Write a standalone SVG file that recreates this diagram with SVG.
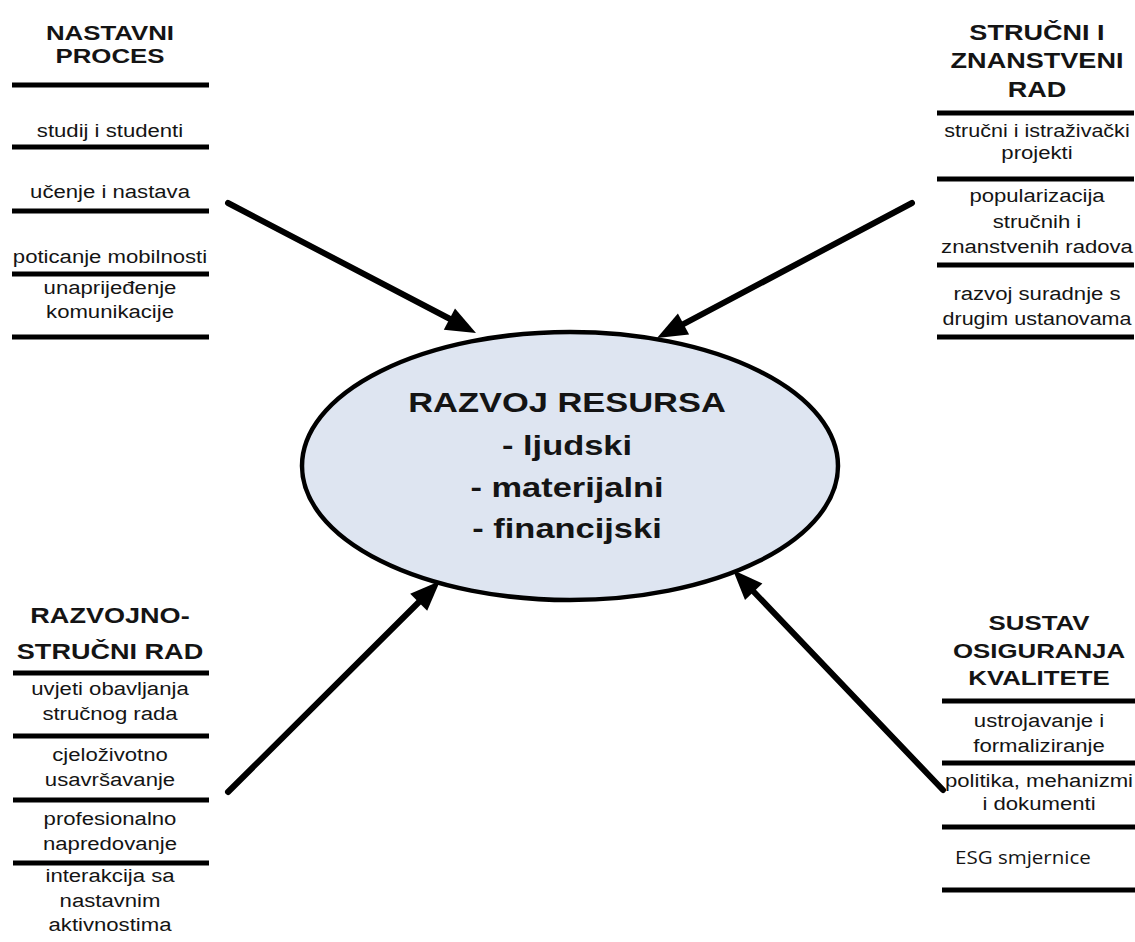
<svg xmlns="http://www.w3.org/2000/svg" width="1135" height="942" viewBox="0 0 1135 942">
<style>
text{font-family:"Liberation Sans",Arial,sans-serif;fill:#141414;text-anchor:middle}
.t{font-weight:bold;font-size:21px}
.i{font-size:18px}
.c{font-weight:bold;font-size:28px}
.esg{font-family:"Open Sans","Liberation Sans",sans-serif;font-size:19px;text-anchor:start}
.rule{stroke:#000;stroke-width:5}
.conn line{stroke:#000;stroke-width:6;stroke-linecap:round}
.conn polygon{fill:#000}
</style>
<rect width="1135" height="942" fill="#fff"/>

<g id="nastavni-proces">
<g class="rule">
<line x1="12" y1="85" x2="209" y2="85"/>
<line x1="12" y1="147" x2="209" y2="147"/>
<line x1="12" y1="211" x2="209" y2="211"/>
<line x1="12" y1="274" x2="209" y2="274"/>
<line x1="12" y1="337" x2="209" y2="337"/>
</g>
<g transform="matrix(1.23 0 0 1 110 0)">
<text class="t" y="40">NASTAVNI</text>
<text class="t" y="63">PROCES</text>
<text class="i" y="137">studij i studenti</text>
<text class="i" y="198">učenje i nastava</text>
<text class="i" y="263">poticanje mobilnosti</text>
<text class="i" y="294">unaprijeđenje</text>
<text class="i" y="318">komunikacije</text>
</g>
</g>

<g id="strucni-znanstveni-rad">
<g class="rule">
<line x1="937" y1="113" x2="1134" y2="113"/>
<line x1="937" y1="179" x2="1134" y2="179"/>
<line x1="937" y1="265" x2="1134" y2="265"/>
<line x1="937" y1="337" x2="1134" y2="337"/>
</g>
<g transform="matrix(1.23 0 0 1 1037 0)">
<text class="t" y="40" style="font-size:22px">STRUČNI I</text>
<text class="t" y="68" style="font-size:22px">ZNANSTVENI</text>
<text class="t" y="97" style="font-size:22px">RAD</text>
<text class="i" y="137" style="font-size:17.5px">stručni i istraživački</text>
<text class="i" y="159">projekti</text>
<text class="i" y="202">popularizacija</text>
<text class="i" y="228">stručnih i</text>
<text class="i" y="253">znanstvenih radova</text>
<text class="i" y="300">razvoj suradnje s</text>
<text class="i" y="325" style="font-size:17.5px">drugim ustanovama</text>
</g>
</g>

<g id="razvojno-strucni-rad">
<g class="rule">
<line x1="13" y1="673" x2="209" y2="673"/>
<line x1="13" y1="736" x2="209" y2="736"/>
<line x1="13" y1="800" x2="209" y2="800"/>
<line x1="13" y1="863" x2="209" y2="863"/>
</g>
<g transform="matrix(1.23 0 0 1 110 0)">
<text class="t" y="623" style="font-size:22px">RAZVOJNO-</text>
<text class="t" y="659" style="font-size:22px">STRUČNI RAD</text>
<text class="i" y="695">uvjeti obavljanja</text>
<text class="i" y="720">stručnog rada</text>
<text class="i" y="761">cjeloživotno</text>
<text class="i" y="786">usavršavanje</text>
<text class="i" y="825">profesionalno</text>
<text class="i" y="850">napredovanje</text>
<text class="i" y="882">interakcija sa</text>
<text class="i" y="907">nastavnim</text>
<text class="i" y="931">aktivnostima</text>
</g>
</g>

<g id="sustav-osiguranja-kvalitete">
<g class="rule">
<line x1="942" y1="701" x2="1135" y2="701"/>
<line x1="942" y1="763" x2="1135" y2="763"/>
<line x1="942" y1="827" x2="1135" y2="827"/>
<line x1="942" y1="890" x2="1135" y2="890"/>
</g>
<g transform="matrix(1.23 0 0 1 1039 0)">
<text class="t" y="630">SUSTAV</text>
<text class="t" y="658">OSIGURANJA</text>
<text class="t" y="685">KVALITETE</text>
<text class="i" y="727">ustrojavanje i</text>
<text class="i" y="752">formaliziranje</text>
<text class="i" y="787">politika, mehanizmi</text>
<text class="i" y="810">i dokumenti</text>
</g>
<text class="esg" transform="matrix(1.08 0 0 1 955 0)" x="0" y="864">ESG smjernice</text>
</g>

<g id="razvoj-resursa">
<ellipse cx="570" cy="466" rx="268" ry="134" fill="#dee5f1" stroke="#000" stroke-width="4.5"/>
<g transform="matrix(1.23 0 0 1 567 0)">
<text class="c" y="412">RAZVOJ RESURSA</text>
<text class="c" y="455">- ljudski</text>
<text class="c" y="497">- materijalni</text>
<text class="c" y="538">- financijski</text>
</g>
</g>

<g id="connectors" class="conn">
<line x1="228" y1="203" x2="452" y2="320"/>
<polygon points="476,333 443.8,329.7 455,308.5"/>
<line x1="912" y1="203" x2="681" y2="325.4"/>
<polygon points="657,338 677.9,313.4 689.1,334.6"/>
<line x1="228" y1="792" x2="421" y2="600"/>
<polygon points="440,581 427.2,610.7 410.2,593.7"/>
<line x1="943" y1="790" x2="751.6" y2="589.5"/>
<polygon points="733,570 762.4,583.4 745,600"/>
</g>
</svg>
